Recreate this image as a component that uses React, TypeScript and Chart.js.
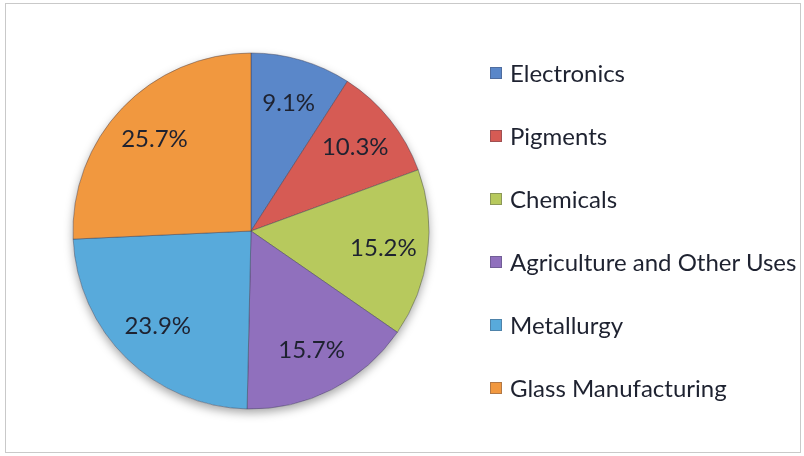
import React, { useEffect, useRef } from "react";
import { Chart, registerables } from "chart.js";

Chart.register(...registerables);

const categories = [
  "Electronics",
  "Pigments",
  "Chemicals",
  "Agriculture and Other Uses",
  "Metallurgy",
  "Glass Manufacturing",
];
const shares = [9.1, 10.3, 15.2, 15.7, 23.9, 25.7];
const colors = ["#5a87c9", "#d65b54", "#b7c95d", "#9070bd", "#58aadb", "#f1983f"];

const FONT = "Lato, 'Open Sans', sans-serif";

const labelPlugin = {
  id: "sliceLabels",
  beforeDatasetsDraw(chart: any) {
    const meta = chart.getDatasetMeta(0);
    const arc = meta.data[0];
    if (!arc) return;
    const { x, y, outerRadius } = arc.getProps(["x", "y", "outerRadius"], true);
    const ctx = chart.ctx;
    ctx.save();
    ctx.shadowColor = "rgba(0,0,0,0.35)";
    ctx.shadowBlur = 10;
    ctx.shadowOffsetY = 4;
    ctx.fillStyle = "#ffffff";
    ctx.beginPath();
    ctx.arc(x, y, outerRadius, 0, Math.PI * 2);
    ctx.fill();
    ctx.restore();
  },
  afterDatasetsDraw(chart: any) {
    const ctx = chart.ctx;
    const meta = chart.getDatasetMeta(0);
    ctx.save();
    ctx.font = `24px ${FONT}`;
    ctx.fillStyle = "#1e2230";
    ctx.textAlign = "center";
    ctx.textBaseline = "middle";
    meta.data.forEach((el: any, i: number) => {
      const p = el.getProps(["x", "y", "startAngle", "endAngle", "outerRadius"], true);
      const mid = (p.startAngle + p.endAngle) / 2;
      const r = p.outerRadius * 0.75;
      ctx.fillText(shares[i].toFixed(1) + "%", p.x + Math.cos(mid) * r, p.y + Math.sin(mid) * r);
    });
    ctx.restore();
  },
};

export default function App() {
  const ref = useRef<HTMLCanvasElement | null>(null);

  useEffect(() => {
    if (!ref.current) return;
    const chart = new Chart(ref.current, {
      type: "pie",
      data: {
        labels: categories,
        datasets: [
          {
            data: shares,
            backgroundColor: colors,
            borderColor: "rgba(60,60,80,0.45)",
            borderWidth: 1,
          },
        ],
      },
      options: {
        responsive: false,
        animation: false,
        radius: 178,
        layout: { padding: { left: 73, right: 375, top: 53, bottom: 47 } },
        plugins: {
          legend: { display: false },
          tooltip: { enabled: false },
        },
      } as any,
      plugins: [labelPlugin],
    });
    return () => chart.destroy();
  }, []);

  return (
    <div
      style={{
        position: "fixed",
        left: 0,
        top: 0,
        width: 804,
        height: 456,
        background: "#ffffff",
        overflow: "hidden",
      }}
    >
      <div
        style={{
          position: "absolute",
          left: 5,
          top: 3,
          width: 794,
          height: 448,
          border: "1px solid #c9c9c9",
        }}
      />
      <canvas ref={ref} width={804} height={456} style={{ position: "absolute", left: 0, top: 0 }} />
      <div style={{ position: "absolute", left: 490, top: 0 }}>
        {categories.map((c, i) => (
          <div
            key={c}
            style={{
              position: "absolute",
              left: 0,
              top: 72 + i * 63 - 15,
              height: 30,
              display: "flex",
              alignItems: "center",
              whiteSpace: "nowrap",
              fontFamily: FONT,
              fontSize: 24,
              color: "#1e2230",
            }}
          >
            <span
              style={{
                display: "inline-block",
                width: 12,
                height: 12,
                background: colors[i],
                border: "1px solid rgba(60,60,80,0.35)",
                marginRight: 8,
                marginTop: 2,
                boxSizing: "border-box",
              }}
            />
            {c}
          </div>
        ))}
      </div>
    </div>
  );
}
